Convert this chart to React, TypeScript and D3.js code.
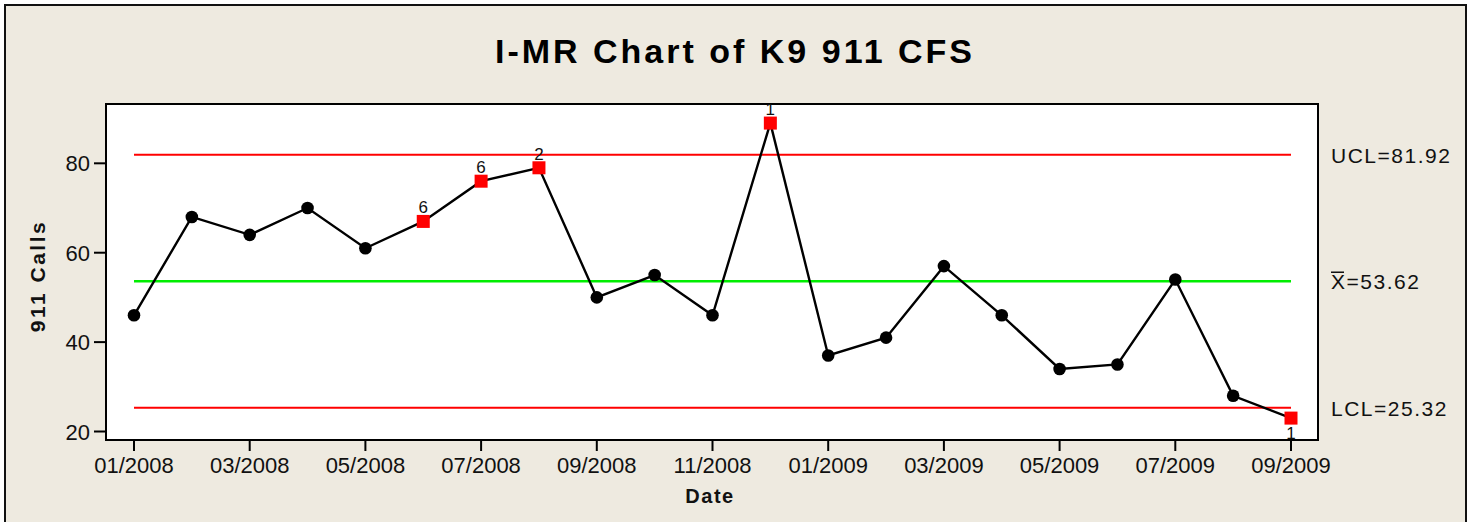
import React from "react";
import * as d3 from "d3";

const months = [
  "01/2008", "02/2008", "03/2008", "04/2008", "05/2008", "06/2008", "07/2008",
  "08/2008", "09/2008", "10/2008", "11/2008", "12/2008", "01/2009", "02/2009",
  "03/2009", "04/2009", "05/2009", "06/2009", "07/2009", "08/2009", "09/2009",
];
const calls = [46, 68, 64, 70, 61, 67, 76, 79, 50, 55, 46, 89, 37, 41, 57, 46, 34, 35, 54, 28, 23];
const testFlags = ["", "", "", "", "", "6", "6", "2", "", "", "", "1", "", "", "", "", "", "", "", "", "1"];
const yTicks = [20, 40, 60, 80];
const xTickEvery = 2;
const UCL = 81.92;
const CL = 53.62;
const LCL = 25.32;
const title = "I-MR Chart of K9 911 CFS";
const yTitle = "911 Calls";
const xTitle = "Date";

const W = 1474;
const H = 522;
const plot = { left: 106, right: 1318, top: 104, bottom: 440 };

export default function App() {
  const x = d3.scaleLinear().domain([0, months.length - 1]).range([134, 1291]);
  const y = d3.scaleLinear().domain([18.1, 93.27]).range([plot.bottom, plot.top]);
  const line = d3
    .line<number>()
    .x((_, i) => x(i))
    .y((d) => y(d));
  const font = "'Liberation Sans', Arial, sans-serif";
  const x0 = x(0);
  const x1 = x(months.length - 1);
  const xTickIdx = d3.range(0, months.length, xTickEvery);

  return (
    <div style={{ position: "absolute", left: 0, top: 0 }}>
      <svg width={W} height={H} style={{ display: "block" }}>
        <defs>
          <clipPath id="plotClip">
            <rect x={plot.left} y={plot.top} width={plot.right - plot.left} height={plot.bottom - plot.top} />
          </clipPath>
        </defs>
        <rect x={0} y={0} width={W} height={H} fill="#ffffff" />
        <rect x={5} y={5} width={1461} height={H + 20} fill="#EEEAE0" stroke="#111" strokeWidth={2} />
        <text x={735} y={63} textAnchor="middle" fontFamily={font} fontWeight="bold" fontSize={34} letterSpacing={3} fill="#000">
          {title}
        </text>
        <rect x={plot.left} y={plot.top} width={plot.right - plot.left} height={plot.bottom - plot.top} fill="#ffffff" stroke="#000" strokeWidth={2} />
        {/* control limits */}
        <line x1={x0} x2={x1} y1={y(UCL)} y2={y(UCL)} stroke="#ff0000" strokeWidth={2} />
        <line x1={x0} x2={x1} y1={y(LCL)} y2={y(LCL)} stroke="#ff0000" strokeWidth={2} />
        <line x1={x0} x2={x1} y1={y(CL)} y2={y(CL)} stroke="#00ee00" strokeWidth={2.5} />
        {/* data */}
        <path d={line(calls) || ""} fill="none" stroke="#000" strokeWidth={2.4} />
        {calls.map((v, i) =>
          testFlags[i] ? (
            <rect key={i} x={x(i) - 6.5} y={y(v) - 6.5} width={13} height={13} fill="#ff0000" />
          ) : (
            <circle key={i} cx={x(i)} cy={y(v)} r={6.3} fill="#000" />
          )
        )}
        <g clipPath="url(#plotClip)">
          {calls.map((v, i) => {
            if (!testFlags[i]) return null;
            const below = i === calls.length - 1;
            return (
              <text
                key={i}
                x={x(i)}
                y={below ? y(v) + 21 : y(v) - 8}
                textAnchor="middle"
                fontFamily={font}
                fontSize={17}
                fill="#111"
              >
                {testFlags[i]}
              </text>
            );
          })}
        </g>
        {/* y axis */}
        {yTicks.map((t) => (
          <g key={t}>
            <line x1={plot.left - 12} x2={plot.left} y1={y(t)} y2={y(t)} stroke="#000" strokeWidth={2} />
            <text x={plot.left - 16} y={y(t) + 8} textAnchor="end" fontFamily={font} fontSize={22} fill="#111">
              {t}
            </text>
          </g>
        ))}
        <text
          transform={`translate(45, 276) rotate(-90)`}
          textAnchor="middle"
          fontFamily={font}
          fontWeight="bold"
          fontSize={21}
          letterSpacing={2.5}
          fill="#111"
        >
          {yTitle}
        </text>
        {/* x axis */}
        {xTickIdx.map((i) => (
          <g key={i}>
            <line x1={x(i)} x2={x(i)} y1={plot.bottom} y2={plot.bottom + 11} stroke="#000" strokeWidth={2} />
            <text x={x(i)} y={473} textAnchor="middle" fontFamily={font} fontSize={22} fill="#111">
              {months[i]}
            </text>
          </g>
        ))}
        <text x={710} y={503} textAnchor="middle" fontFamily={font} fontWeight="bold" fontSize={20} letterSpacing={1.5} fill="#111">
          {xTitle}
        </text>
        {/* limit labels */}
        <text x={1331} y={y(UCL) + 8} fontFamily={font} fontSize={21} letterSpacing={1.5} fill="#111">
          {"UCL=" + UCL.toFixed(2)}
        </text>
        <text x={1331} y={y(CL) + 8} fontFamily={font} fontSize={21} letterSpacing={1.5} fill="#111">
          {"X=" + CL.toFixed(2)}
        </text>
        <line x1={1331} x2={1344} y1={y(CL) - 9} y2={y(CL) - 9} stroke="#111" strokeWidth={1.5} />
        <text x={1331} y={y(LCL) + 8} fontFamily={font} fontSize={21} letterSpacing={1.5} fill="#111">
          {"LCL=" + LCL.toFixed(2)}
        </text>
      </svg>
    </div>
  );
}
